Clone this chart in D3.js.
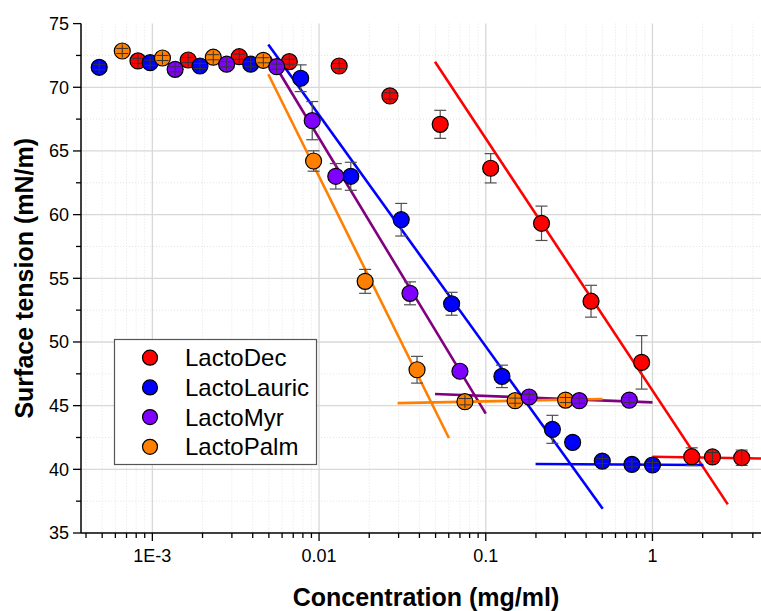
<!DOCTYPE html>
<html>
<head>
<meta charset="utf-8">
<script src="https://cdn.jsdelivr.net/npm/d3@7"></script>
<style>
  html, body { margin: 0; padding: 0; background: #fff; }
  svg { display: block; font-family: Arial, "Liberation Sans", sans-serif; }
</style>
</head>
<body>
<svg id="chart" width="761" height="611"></svg>
<script>
// ---------- data ----------
const seriesNames = ["LactoDec", "LactoLauric", "LactoMyr", "LactoPalm"];
const seriesColors = ["#FF0000", "#0000FF", "#8000FF", "#FF8000"];
const fitColors = ["#FF0000", "#0000FF", "#800080", "#FF8000"];

const decConc = [8.2e-4, 1.64e-3, 3.32e-3, 6.63e-3, 0.0132, 0.0266, 0.0533, 0.107, 0.216, 0.428, 0.861, 1.72, 2.29, 3.43];
const decST   = [72.07, 72.14, 72.40, 72.01, 71.67, 69.32, 67.09, 63.64, 59.32, 53.20, 48.40, 40.99, 40.97, 40.91];
const decErr  = [0.2, 0.2, 0.2, 0.2, 0.2, 0.25, 1.1, 1.15, 1.35, 1.25, 2.1, 0.7, 0.35, 0.6];

const lauConc = [4.8e-4, 9.7e-4, 1.93e-3, 3.89e-3, 7.76e-3, 0.0155, 0.0311, 0.0624, 0.125, 0.251, 0.332, 0.50, 0.753, 1.0];
const lauST   = [71.57, 71.93, 71.67, 71.81, 70.71, 63.01, 59.60, 53.00, 47.30, 43.14, 42.12, 40.65, 40.39, 40.34];
const lauErr  = [0.2, 0.2, 0.2, 0.2, 1.05, 1.1, 1.28, 0.9, 0.88, 1.1, 0, 0.2, 0.2, 0.2];

const myrConc = [1.37e-3, 2.79e-3, 5.57e-3, 9.1e-3, 0.0126, 0.0351, 0.070, 0.182, 0.364, 0.726];
const myrST   = [71.41, 71.81, 71.62, 67.38, 63.01, 53.82, 47.70, 45.68, 45.39, 45.44];
const myrErr  = [0.2, 0.2, 0.2, 1.5, 1.0, 0.9, 0, 0.2, 0.2, 0.2];

const palmConc = [6.6e-4, 1.15e-3, 2.32e-3, 4.63e-3, 9.27e-3, 0.0189, 0.0387, 0.075, 0.150, 0.301];
const palmST   = [72.85, 72.30, 72.36, 72.12, 64.21, 54.76, 47.82, 45.31, 45.39, 45.44];
const palmErr  = [0.2, 0.2, 0.2, 0.2, 0.8, 0.94, 1.05, 0.25, 0.2, 0.2];

// linear fits (endpoints in data units)
const decFitSteep  = [[0.0496, 72.01], [2.83, 37.25]];
const decFitFlat   = [[1.0, 40.99], [5.0, 40.84]];
const lauFitSteep  = [[4.96e-3, 73.35], [0.503, 36.90]];
const lauFitFlat   = [[0.199, 40.42], [2.02, 40.34]];
const myrFitSteep  = [[5.08e-3, 72.38], [0.1, 44.37]];
const myrFitFlat   = [[0.0496, 45.91], [1.0, 45.26]];
const palmFitSteep = [[4.96e-3, 71.02], [0.0601, 42.46]];
const palmFitFlat  = [[0.0296, 45.20], [0.502, 45.52]];

const xMajorTicks = [1e-3, 0.01, 0.1, 1];
const xTickLabels = ["1E-3", "0.01", "0.1", "1"];
const yMajorTicks = [35, 40, 45, 50, 55, 60, 65, 70, 75];
const yMinorTicks = [37.5, 42.5, 47.5, 52.5, 57.5, 62.5, 67.5, 72.5];

(function () {
// ---------- layout ----------
const svg = d3.select("#chart");
const pL = 81, pR = 770, pT = 23.6, pB = 533;
const x = d3.scaleLog().domain([Math.pow(10, -3.428), Math.pow(10, 0.705)]).range([pL, pR]);
const y = d3.scaleLinear().domain([35, 75]).range([pB, pT]);

const xMinorTicks = [];
for (let e = -4; e <= 0; e++) for (let k = 2; k <= 9; k++) {
  const v = k * Math.pow(10, e);
  if (v > x.domain()[0] && v < x.domain()[1]) xMinorTicks.push(v);
}

svg.append("defs").append("clipPath").attr("id", "clip")
  .append("rect").attr("x", pL).attr("y", 0).attr("width", 761 - pL).attr("height", pB);

// grid
const grid = svg.append("g").attr("clip-path", "url(#clip)");
grid.selectAll(".gxm").data(xMinorTicks).enter().append("line")
  .attr("x1", d => x(d)).attr("x2", d => x(d)).attr("y1", pT).attr("y2", pB)
  .attr("stroke", "#e4e4e4").attr("stroke-width", 1).attr("stroke-dasharray", "1,2");
grid.selectAll(".gym").data(yMinorTicks).enter().append("line")
  .attr("x1", pL).attr("x2", 761).attr("y1", d => y(d)).attr("y2", d => y(d))
  .attr("stroke", "#e4e4e4").attr("stroke-width", 1).attr("stroke-dasharray", "1,2");
grid.selectAll(".gx").data(xMajorTicks).enter().append("line")
  .attr("x1", d => x(d)).attr("x2", d => x(d)).attr("y1", pT).attr("y2", pB)
  .attr("stroke", "#d8d8d8").attr("stroke-width", 1.3);
grid.selectAll(".gy").data(yMajorTicks.filter(v => v > 35 && v < 75)).enter().append("line")
  .attr("x1", pL).attr("x2", 761).attr("y1", d => y(d)).attr("y2", d => y(d))
  .attr("stroke", "#d8d8d8").attr("stroke-width", 1.3);

// fit lines
const fits = [
  [decFitSteep, 0], [decFitFlat, 0],
  [lauFitSteep, 1], [lauFitFlat, 1],
  [myrFitSteep, 2], [myrFitFlat, 2],
  [palmFitSteep, 3], [palmFitFlat, 3]
];
const lineGen = d3.line().x(d => x(d[0])).y(d => y(d[1]));
const fitG = svg.append("g").attr("clip-path", "url(#clip)");
fits.forEach(([pts, i]) => {
  fitG.append("path").attr("d", lineGen(pts)).attr("fill", "none")
    .attr("stroke", fitColors[i]).attr("stroke-width", 2.6);
});

// series
const series = [
  { c: decConc, v: decST, e: decErr },
  { c: lauConc, v: lauST, e: lauErr },
  { c: myrConc, v: myrST, e: myrErr },
  { c: palmConc, v: palmST, e: palmErr }
];
const R = 8, cap = 6;
const drawOrder = [0, 1, 3, 2];
const ptsG = svg.append("g");
drawOrder.forEach(i => {
  const s = series[i];
  const data = s.c.map((c, j) => ({ c, v: s.v[j], e: s.e[j] }));
  const g = ptsG.append("g");
  data.forEach(d => {
    const cx = x(d.c), cy = y(d.v);
    const ep = y(d.v - d.e) - cy;
    if (d.e > 0 && ep > R) {
      g.append("line").attr("x1", cx).attr("x2", cx).attr("y1", cy - ep).attr("y2", cy + ep)
        .attr("stroke", "#505050").attr("stroke-width", 1.2);
      [cy - ep, cy + ep].forEach(yy => g.append("line")
        .attr("x1", cx - cap).attr("x2", cx + cap).attr("y1", yy).attr("y2", yy)
        .attr("stroke", "#505050").attr("stroke-width", 1.2));
    }
    g.append("circle").attr("cx", cx).attr("cy", cy).attr("r", R)
      .attr("fill", seriesColors[i]).attr("stroke", "#000").attr("stroke-width", 1.2);
    if (d.e > 0 && ep <= R) {
      const h = Math.max(ep, 1.2);
      g.append("line").attr("x1", cx).attr("x2", cx).attr("y1", cy - R + 1.5).attr("y2", cy + R - 1.5)
        .attr("stroke", "#333").attr("stroke-width", 1);
      [cy - h, cy + h].forEach(yy => g.append("line")
        .attr("x1", cx - cap).attr("x2", cx + cap).attr("y1", yy).attr("y2", yy)
        .attr("stroke", "#333").attr("stroke-width", 1));
    }
  });
});

// axes
const ax = svg.append("g");
ax.append("line").attr("x1", pL).attr("x2", pL).attr("y1", pT).attr("y2", pB)
  .attr("stroke", "#000").attr("stroke-width", 1.5);
ax.append("line").attr("x1", pL).attr("x2", 761).attr("y1", pB).attr("y2", pB)
  .attr("stroke", "#000").attr("stroke-width", 1.5);
yMajorTicks.forEach(v => ax.append("line").attr("x1", pL - 8).attr("x2", pL)
  .attr("y1", y(v)).attr("y2", y(v)).attr("stroke", "#000").attr("stroke-width", 1.3));
yMinorTicks.forEach(v => ax.append("line").attr("x1", pL - 5).attr("x2", pL)
  .attr("y1", y(v)).attr("y2", y(v)).attr("stroke", "#000").attr("stroke-width", 1.3));
xMajorTicks.forEach(v => ax.append("line").attr("x1", x(v)).attr("x2", x(v))
  .attr("y1", pB).attr("y2", pB + 8).attr("stroke", "#000").attr("stroke-width", 1.3));
xMinorTicks.filter(v => x(v) < 761).forEach(v => ax.append("line").attr("x1", x(v)).attr("x2", x(v))
  .attr("y1", pB).attr("y2", pB + 5).attr("stroke", "#000").attr("stroke-width", 1.3));

yMajorTicks.forEach(v => ax.append("text").attr("x", pL - 12).attr("y", y(v)).attr("dy", "0.35em")
  .attr("text-anchor", "end").attr("font-size", 18).attr("fill", "#000").text(v));
xMajorTicks.forEach((v, i) => ax.append("text").attr("x", x(v)).attr("y", pB + 29)
  .attr("text-anchor", "middle").attr("font-size", 18).attr("fill", "#000").text(xTickLabels[i]));

svg.append("text").attr("x", 426).attr("y", 606).attr("text-anchor", "middle")
  .attr("font-size", 25).attr("font-weight", "bold").text("Concentration (mg/ml)");
svg.append("text").attr("transform", `translate(33, ${(pT + pB) / 2}) rotate(-90)`)
  .attr("text-anchor", "middle").attr("font-size", 25).attr("font-weight", "bold")
  .text("Surface tension (mN/m)");

// legend
const lg = svg.append("g");
lg.append("rect").attr("x", 114.5).attr("y", 339.5).attr("width", 202).attr("height", 125)
  .attr("fill", "#fff").attr("stroke", "#555").attr("stroke-width", 1.2);
seriesNames.forEach((n, i) => {
  const yy = 357.7 + i * 29.7;
  lg.append("circle").attr("cx", 150).attr("cy", yy).attr("r", 7.5)
    .attr("fill", seriesColors[i]).attr("stroke", "#000").attr("stroke-width", 1.2);
  lg.append("text").attr("x", 185).attr("y", yy + 8.5).attr("font-size", 24).attr("fill", "#000").text(n);
});
})();
</script>
</body>
</html>
